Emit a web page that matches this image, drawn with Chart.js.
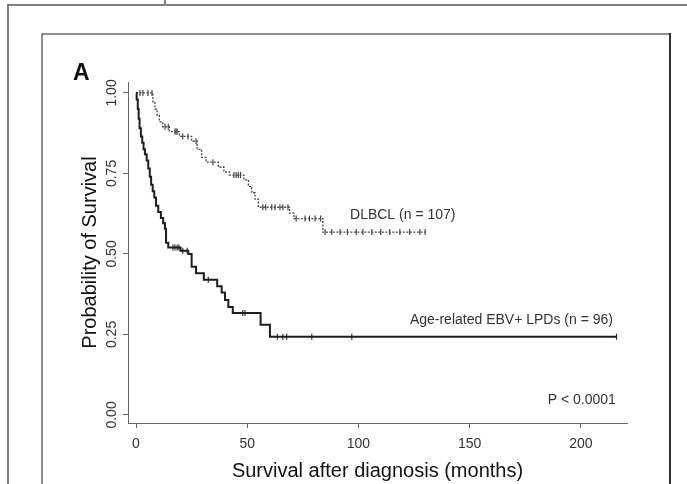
<!DOCTYPE html>
<html>
<head>
<meta charset="utf-8">
<script src="https://cdn.jsdelivr.net/npm/chart.js@4.4.1/dist/chart.umd.min.js"></script>
<style>
  html, body { margin: 0; padding: 0; background: #fff; }
  #wrap { width: 687px; height: 484px; }
</style>
</head>
<body>
<div id="wrap"><canvas id="km" width="687" height="484"></canvas></div>
<script>
// Kaplan-Meier steps: month of each drop and survival after it (last entry = end of follow-up)
const dlbclTimes = [0, 7.6, 8.5, 9.5, 10.5, 12, 15, 19.5, 25, 27.5, 29.5, 31.5, 37, 39.5, 42, 48.5, 50.5, 52, 53.5, 55, 69, 71, 84, 130];
const dlbclSurv  = [1.0, 0.97, 0.95, 0.93, 0.91, 0.895, 0.88, 0.865, 0.85, 0.825, 0.80, 0.785, 0.77, 0.755, 0.745, 0.73, 0.71, 0.69, 0.67, 0.645, 0.627, 0.61, 0.568, 0.568];
const dlbclCensor = [1.8, 3.1, 5.4, 7.2, 13, 14.5, 17.5, 18, 18.5, 21, 23.4, 27, 34.6, 44, 45, 46, 47,
  57, 58.3, 61, 62.5, 64.7, 66, 68.3, 72, 76, 78, 80.5, 83, 85, 88, 91.7, 95, 99, 102, 106, 110, 114, 118.6, 123, 127.6, 130];

const ebvTimes = [0, 0.3, 0.8, 1.2, 1.6, 2.2, 2.8, 3.4, 4, 4.8, 5.5, 6.2, 6.8, 7.5, 8.2, 9, 10, 11.2, 12.2, 13, 13.5, 14.5,
  20, 23.5, 25, 27, 30.5, 36.5, 38.5, 40, 41.5, 43.5, 56, 60.2, 216];
const ebvSurv  = [1.0, 0.98, 0.95, 0.92, 0.89, 0.865, 0.845, 0.825, 0.81, 0.79, 0.765, 0.74, 0.715, 0.695, 0.675, 0.65, 0.63, 0.612, 0.595, 0.578, 0.535, 0.52,
  0.51, 0.50, 0.46, 0.44, 0.42, 0.40, 0.38, 0.357, 0.335, 0.317, 0.28, 0.243, 0.243];
const ebvCensor = [16.6, 17.5, 18.5, 19.3, 21, 23, 32.5, 48, 49, 63.5, 66, 67.7, 79, 97, 216];

const xTicks = [0, 50, 100, 150, 200];
const yTicks = [0, 0.25, 0.5, 0.75, 1];
const yTickLabels = ['0.00', '0.25', '0.50', '0.75', '1.00'];
const seriesLabels = ['DLBCL (n = 107)', 'Age-related EBV+ LPDs (n = 96)'];
const pValueText = 'P < 0.0001';
const panelLetter = 'A';
const xTitle = 'Survival after diagnosis (months)';
const yTitle = 'Probability of Survival';

const FONT = '"Liberation Sans", Arial, Helvetica, sans-serif';

// survival value of a step curve at time t
function survAt(times, surv, t) {
  let v = surv[0];
  for (let i = 0; i < times.length; i++) {
    if (times[i] <= t) v = surv[i];
  }
  return v;
}

function steps(times, surv) {
  return times.map((t, i) => ({ x: t, y: surv[i] }));
}

function marks(censor, times, surv) {
  return censor.map(t => ({ x: t, y: survAt(times, surv, t) }));
}

const decor = {
  id: 'decor',
  beforeDraw(chart) {
    const ctx = chart.ctx;
    ctx.save();
    ctx.fillStyle = '#fff';
    ctx.fillRect(0, 0, chart.width, chart.height);
    // outer frame
    ctx.strokeStyle = '#808080';
    ctx.lineWidth = 2;
    ctx.beginPath();
    ctx.moveTo(8, 490); ctx.lineTo(8, 5); ctx.lineTo(700, 5);
    ctx.moveTo(165, 0); ctx.lineTo(165, 5);
    ctx.stroke();
    // inner panel box
    ctx.strokeStyle = '#6a6a6a';
    ctx.lineWidth = 1.5;
    ctx.beginPath();
    ctx.moveTo(42, 490); ctx.lineTo(42, 34); ctx.lineTo(670, 34);
    ctx.stroke();
    ctx.strokeStyle = '#333';
    ctx.lineWidth = 2;
    ctx.beginPath();
    ctx.moveTo(670, 33); ctx.lineTo(670, 490);
    ctx.stroke();
    ctx.restore();
  },
  afterDraw(chart) {
    const { ctx, scales: { x, y } } = chart;
    ctx.save();
    ctx.fillStyle = '#333';
    ctx.font = '14px ' + FONT;
    ctx.textBaseline = 'middle';
    ctx.textAlign = 'left';
    ctx.fillText(seriesLabels[0], x.getPixelForValue(96.2), y.getPixelForValue(0.621));
    ctx.textAlign = 'right';
    ctx.fillText(seriesLabels[1], x.getPixelForValue(214.4), y.getPixelForValue(0.295));
    ctx.fillText(pValueText, x.getPixelForValue(215.7), y.getPixelForValue(0.047));
    ctx.fillStyle = '#111';
    ctx.font = 'bold 23px ' + FONT;
    ctx.textAlign = 'left';
    ctx.textBaseline = 'alphabetic';
    ctx.fillText(panelLetter, 73, 80);
    ctx.restore();
  }
};

new Chart(document.getElementById('km'), {
  type: 'line',
  data: {
    datasets: [
      {
        label: seriesLabels[1],
        data: steps(ebvTimes, ebvSurv),
        stepped: true,
        borderColor: '#1e1e1e',
        borderWidth: 2,
        pointRadius: 0,
        fill: false
      },
      {
        label: seriesLabels[0],
        data: steps(dlbclTimes, dlbclSurv),
        stepped: true,
        borderColor: '#444',
        borderWidth: 1.3,
        borderDash: [2, 1.5],
        pointRadius: 0,
        fill: false
      },
      {
        label: 'ebv censored',
        data: marks(ebvCensor, ebvTimes, ebvSurv),
        showLine: false,
        pointStyle: 'line',
        rotation: 90,
        pointRadius: 3,
        borderColor: '#333',
        borderWidth: 1.2
      },
      {
        label: 'dlbcl censored',
        data: marks(dlbclCensor, dlbclTimes, dlbclSurv),
        showLine: false,
        pointStyle: 'line',
        rotation: 90,
        pointRadius: 3,
        borderColor: '#444',
        borderWidth: 1.2
      }
    ]
  },
  options: {
    responsive: false,
    animation: false,
    layout: { padding: { left: 70, right: 60, top: 82, bottom: 0 } },
    plugins: { legend: { display: false }, tooltip: { enabled: false } },
    scales: {
      x: {
        type: 'linear',
        min: -3.6,
        max: 220.7,
        afterBuildTicks: s => { s.ticks = xTicks.map(v => ({ value: v })); },
        afterFit: s => { s.height = 61; },
        grid: { drawOnChartArea: false, drawTicks: true, tickLength: 5, color: '#666' },
        border: { color: '#666', width: 1 },
        ticks: { color: '#333', font: { family: FONT, size: 14 }, padding: 8, maxRotation: 0 },
        title: { display: true, text: xTitle, color: '#111', font: { family: FONT, size: 20 }, padding: { top: 0, bottom: 1 } }
      },
      y: {
        type: 'linear',
        min: -0.025,
        max: 1.034,
        afterBuildTicks: s => { s.ticks = yTicks.map(v => ({ value: v })); },
        afterFit: s => { s.width = 58; },
        grid: { drawOnChartArea: false, drawTicks: true, tickLength: 5, color: '#666' },
        border: { color: '#666', width: 1 },
        ticks: {
          color: '#333',
          font: { family: FONT, size: 14 },
          padding: -3,
          minRotation: 90,
          maxRotation: 90,
          crossAlign: 'center',
          callback: (v) => yTickLabels[yTicks.indexOf(v)]
        },
        title: { display: true, text: yTitle, color: '#111', font: { family: FONT, size: 20 }, padding: { top: 8, bottom: 0 } }
      }
    }
  },
  plugins: [decor]
});
</script>
</body>
</html>
